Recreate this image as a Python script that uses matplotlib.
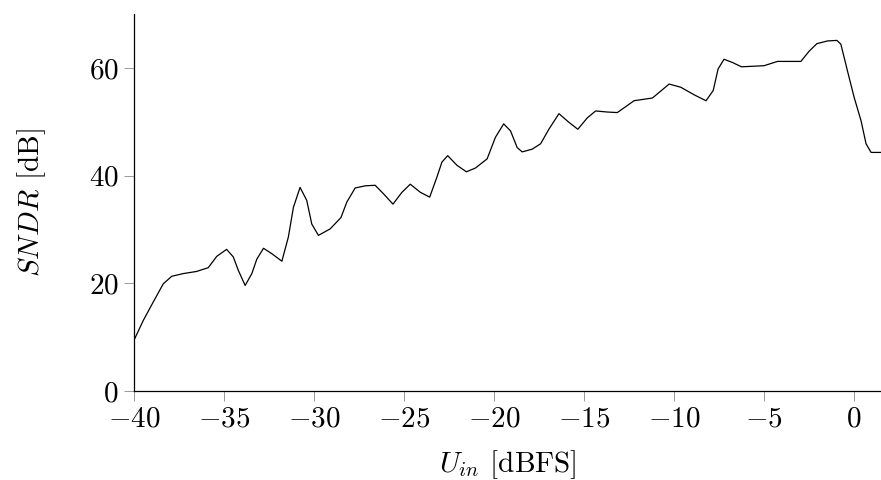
import matplotlib
matplotlib.use("Agg")
import matplotlib.pyplot as plt

u_in = [-40.0, -39.48, -38.93, -38.37, -37.9, -37.26, -36.52, -35.87, -35.4, -34.85,
        -34.48, -34.2, -33.82, -33.45, -33.17, -32.8, -32.34, -31.78, -31.42, -31.14,
        -30.77, -30.4, -30.12, -29.75, -29.1, -28.5, -28.17, -27.71, -27.15, -26.6,
        -26.13, -25.61, -25.11, -24.65, -24.09, -23.57, -23.17, -22.89, -22.57, -22.05,
        -21.53, -21.03, -20.38, -19.92, -19.46, -19.08, -18.71, -18.43, -17.88, -17.41,
        -16.95, -16.39, -15.84, -15.34, -14.82, -14.35, -13.7, -13.15, -12.68, -12.22,
        -11.2, -10.73, -10.27, -9.62, -8.88, -8.22, -7.82, -7.55, -7.22, -6.75,
        -6.25, -5.0, -4.25, -2.95, -2.49, -2.06, -1.47, -0.95, -0.73, -0.36,
        0.01, 0.39, 0.67, 0.95, 1.5]
sndr = [9.4, 13.1, 16.5, 19.9, 21.3, 21.8, 22.2, 22.9, 25.0, 26.3,
        24.9, 22.4, 19.6, 21.8, 24.5, 26.5, 25.5, 24.1, 28.6, 34.1,
        37.8, 35.4, 31.0, 28.9, 30.1, 32.2, 35.1, 37.7, 38.1, 38.2,
        36.6, 34.7, 36.9, 38.4, 36.9, 36.0, 39.7, 42.5, 43.7, 41.9,
        40.7, 41.4, 43.1, 47.1, 49.6, 48.3, 45.2, 44.4, 44.9, 45.9,
        48.6, 51.5, 49.9, 48.6, 50.7, 52.0, 51.8, 51.7, 52.8, 53.9,
        54.4, 55.7, 57.0, 56.4, 55.0, 53.9, 55.8, 59.8, 61.6, 61.0,
        60.2, 60.4, 61.2, 61.2, 63.1, 64.5, 65.0, 65.1, 64.4, 59.4,
        54.5, 50.2, 45.9, 44.3, 44.3]

x_ticks = [-40, -35, -30, -25, -20, -15, -10, -5, 0]
y_ticks = [0, 20, 40, 60]

plt.rcParams['font.family'] = 'cmr10'
plt.rcParams['mathtext.fontset'] = 'cm'
plt.rcParams['font.size'] = 21

fig = plt.figure(figsize=(8.81, 4.80), dpi=100)
ax = fig.add_axes([0.152, 0.1854, 0.848, 0.7854])
ax.plot(u_in, sndr, color='black', lw=0.9, solid_joinstyle='round',
        solid_capstyle='round')
ax.set_xlim(-40, 1.5)
ax.set_ylim(0, 70)
ax.spines['top'].set_visible(False)
ax.spines['right'].set_visible(False)
for s in ('left', 'bottom'):
    ax.spines[s].set_linewidth(0.9)
ax.set_xticks(x_ticks)
ax.set_xticklabels([f'${v}$' for v in x_ticks])
ax.set_yticks(y_ticks)
ax.set_yticklabels([f'${v}$' for v in y_ticks])
ax.tick_params(direction='out', length=7, width=0.6, color='#888888', pad=4, labelsize=21)
ax.set_xlabel(r'$U_{in}$ [dBFS]', fontsize=21, labelpad=11)
ax.set_ylabel(r'$SNDR$ [dB]', fontsize=21, labelpad=29)
fig.savefig('out.png', dpi=100)
